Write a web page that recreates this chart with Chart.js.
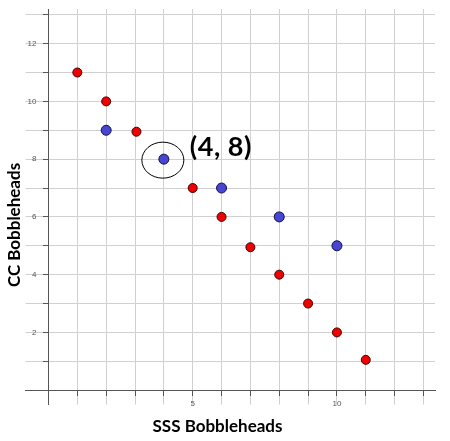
<!DOCTYPE html>
<html lang="en">
<head>
    <meta charset="UTF-8">
    <title>CC vs SSS Bobbleheads</title>
    <script src="https://cdn.jsdelivr.net/npm/chart.js"></script>
    <style>
        body { margin: 0; background: #fff; }
        #chart-container { width: 450px; height: 441px; }
    </style>
</head>
<body>
    <div id="chart-container">
        <canvas id="bobble-chart"></canvas>
    </div>

    <script>
        // red points
        const redX = [1, 2, 3.05, 5, 6, 7, 8, 9, 10, 11];
        const redY = [11, 10, 8.95, 7, 6, 4.95, 4, 3, 2, 1.05];
        // blue points
        const blueX = [2, 4, 6, 8, 10];
        const blueY = [9, 8, 7, 6, 5];

        const xTickLabels = [5, 10];
        const yTickLabels = [2, 4, 6, 8, 10, 12];
        const calloutPoint = [4, 8];
        const calloutText = '(4, 8)';

        const toPoints = (xs, ys) => xs.map((x, i) => ({ x: x, y: ys[i] }));

        // hand-drawn style circle + label around the highlighted point
        const calloutPlugin = {
            id: 'callout',
            afterDatasetsDraw(chart) {
                const ctx = chart.ctx;
                const xs = chart.scales.x, ys = chart.scales.y;
                const px = xs.getPixelForValue(calloutPoint[0]);
                const py = ys.getPixelForValue(calloutPoint[1]);
                ctx.save();
                ctx.strokeStyle = '#000';
                ctx.lineWidth = 1;
                ctx.beginPath();
                ctx.ellipse(px - 1, py + 1, 21, 18, 0, 0, Math.PI * 2);
                ctx.stroke();
                ctx.fillStyle = '#000';
                ctx.font = 'bold 27px Lato';
                ctx.letterSpacing = '0.5px';
                ctx.textBaseline = 'alphabetic';
                ctx.fillText(calloutText, xs.getPixelForValue(calloutPoint[0] + 0.9), ys.getPixelForValue(calloutPoint[1] + 0.1));
                ctx.restore();
            }
        };

        const gridOpts = {
            color: '#d0d0d0',
            lineWidth: 1,
            tickColor: '#555',
            tickLength: 5
        };

        const ctx = document.getElementById('bobble-chart').getContext('2d');
        const bobbleChart = new Chart(ctx, {
            type: 'scatter',
            data: {
                datasets: [{
                    label: 'Red',
                    data: toPoints(redX, redY),
                    backgroundColor: '#f00000',
                    borderColor: '#400000',
                    borderWidth: 1,
                    pointRadius: 4.5
                }, {
                    label: 'Blue',
                    data: toPoints(blueX, blueY),
                    backgroundColor: '#4646d2',
                    borderColor: '#10104a',
                    borderWidth: 1,
                    pointRadius: 5
                }]
            },
            options: {
                responsive: true,
                maintainAspectRatio: false,
                animation: false,
                layout: { padding: { top: 9, right: 15, left: 0, bottom: 0 } },
                plugins: {
                    legend: { display: false },
                    tooltip: { enabled: false },
                    title: {
                        display: true,
                        text: 'CC Bobbleheads',
                        position: 'left',
                        color: '#000',
                        font: { family: 'Lato', size: 17, weight: 'bold' },
                        padding: { top: 4, bottom: 1 }
                    },
                    subtitle: {
                        display: true,
                        text: 'SSS Bobbleheads',
                        position: 'bottom',
                        color: '#000',
                        font: { family: 'Lato', size: 17, weight: 'bold' },
                        padding: { top: 12, bottom: 4 }
                    }
                },
                scales: {
                    x: {
                        type: 'linear',
                        position: { y: 0 },
                        min: -0.8,
                        max: 13.4,
                        grid: gridOpts,
                        border: { display: true, color: '#555', width: 1 },
                        ticks: {
                            stepSize: 1,
                            includeBounds: false,
                            autoSkip: false,
                            maxRotation: 0,
                            padding: 4,
                            color: '#555',
                            font: { family: 'Liberation Sans', size: 8 },
                            callback: v => xTickLabels.includes(v) ? String(v) : ''
                        }
                    },
                    y: {
                        type: 'linear',
                        position: { x: 0 },
                        min: -0.5,
                        max: 13.2,
                        grid: gridOpts,
                        border: { display: true, color: '#555', width: 1 },
                        ticks: {
                            stepSize: 1,
                            includeBounds: false,
                            autoSkip: false,
                            color: '#555',
                            font: { family: 'Liberation Sans', size: 8 },
                            // labels sit right on the axis here, so pad them with spaces
                            callback: v => yTickLabels.includes(v) ? String(v) + '\u2002\u2002\u2002' : ''
                        }
                    }
                }
            },
            plugins: [calloutPlugin]
        });
    </script>
</body>
</html>
